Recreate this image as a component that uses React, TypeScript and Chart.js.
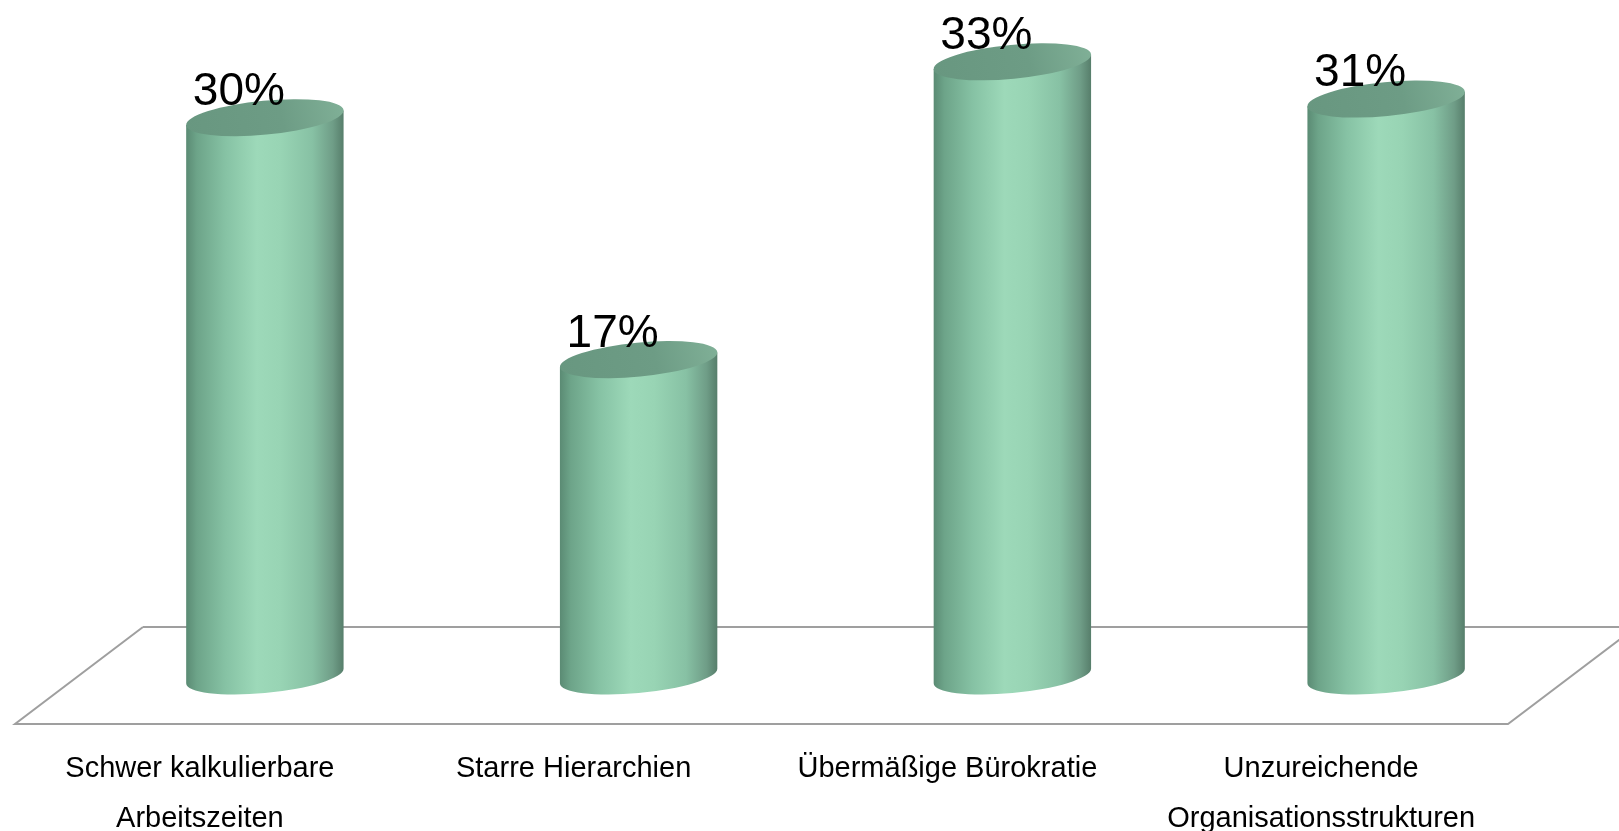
import React, { useEffect, useRef } from "react";
import { Chart, registerables } from "chart.js";

Chart.register(...registerables);

const categories: (string | string[])[] = [
  ["Schwer kalkulierbare", "Arbeitszeiten"],
  "Starre Hierarchien",
  "Übermäßige Bürokratie",
  ["Unzureichende", "Organisationsstrukturen"],
];
const values: number[] = [30, 17, 33, 31];
const valueLabels: string[] = ["30%", "17%", "33%", "31%"];

const FONT = '"Liberation Sans", Arial, sans-serif';

const cylinderPlugin = {
  id: "cylinders",
  beforeDatasetsDraw(chart: any) {
    const { ctx, chartArea } = chart;
    const fx0 = chartArea.left + 2;
    const fx1 = chartArea.right;
    const fy = chartArea.bottom;
    const DX = 128;
    const DY = -97;
    ctx.save();
    ctx.strokeStyle = "#9f9f9f";
    ctx.lineWidth = 2;
    ctx.beginPath();
    ctx.moveTo(fx0 + DX, fy + DY);
    ctx.lineTo(fx0, fy);
    ctx.lineTo(fx1, fy);
    ctx.lineTo(fx1 + DX, fy + DY);
    ctx.lineTo(fx0 + DX, fy + DY);
    ctx.stroke();
    ctx.restore();
  },
  afterDatasetsDraw(chart: any) {
    const { ctx } = chart;
    const meta = chart.getDatasetMeta(0);
    const dx = 65;
    const dy = -48;
    const theta = (-5.5 * Math.PI) / 180;
    meta.data.forEach((bar: any, i: number) => {
      const p = bar.getProps(["x", "y", "base", "width"], true);
      const cx = p.x + dx;
      const cyTop = p.y + dy;
      const cyBot = p.base + dy;
      const rx = p.width / 2;
      const ry = 17;
      const t0 = Math.atan2(-ry * Math.sin(theta), rx * Math.cos(theta));
      const pt = (cy: number, t: number) => ({
        x: cx + rx * Math.cos(t) * Math.cos(theta) - ry * Math.sin(t) * Math.sin(theta),
        y: cy + rx * Math.cos(t) * Math.sin(theta) + ry * Math.sin(t) * Math.cos(theta),
      });
      const tr = pt(cyTop, t0);
      const tl = pt(cyTop, t0 + Math.PI);
      const br = pt(cyBot, t0);

      ctx.save();
      const g = ctx.createLinearGradient(cx - rx, 0, cx + rx, 0);
      g.addColorStop(0, "#5a8a73");
      g.addColorStop(0.07, "#6da489");
      g.addColorStop(0.25, "#86c2a4");
      g.addColorStop(0.45, "#9dd9b9");
      g.addColorStop(0.6, "#98d4b4");
      g.addColorStop(0.8, "#87c1a4");
      g.addColorStop(0.93, "#6f9d87");
      g.addColorStop(1, "#567d6a");
      ctx.beginPath();
      ctx.moveTo(tr.x, tr.y);
      ctx.lineTo(br.x, br.y);
      ctx.ellipse(cx, cyBot, rx, ry, theta, t0, t0 + Math.PI, false);
      ctx.lineTo(tl.x, tl.y);
      ctx.closePath();
      ctx.fillStyle = g;
      ctx.fill();

      const gt = ctx.createLinearGradient(cx - rx, cyTop + ry, cx + rx, cyTop - ry);
      gt.addColorStop(0, "#689780");
      gt.addColorStop(0.6, "#6d9c85");
      gt.addColorStop(1, "#80b097");
      ctx.beginPath();
      ctx.ellipse(cx, cyTop, rx, ry, theta, 0, Math.PI * 2);
      ctx.fillStyle = gt;
      ctx.fill();

      ctx.fillStyle = "#000";
      ctx.font = `46px ${FONT}`;
      ctx.textAlign = "center";
      ctx.textBaseline = "alphabetic";
      ctx.fillText(valueLabels[i], cx - 26, cyTop - 13);
      ctx.restore();
    });
  },
};

export default function App() {
  const ref = useRef<HTMLCanvasElement>(null);
  useEffect(() => {
    if (!ref.current) return;
    const chart = new Chart(ref.current, {
      type: "bar",
      data: {
        labels: categories,
        datasets: [
          {
            data: values,
            backgroundColor: "rgba(0,0,0,0)",
            borderWidth: 0,
            categoryPercentage: 1,
            barPercentage: 0.423,
          },
        ],
      },
      options: {
        animation: false,
        responsive: true,
        maintainAspectRatio: false,
        layout: { padding: { left: 13, right: 111, top: 54, bottom: 0 } },
        plugins: {
          legend: { display: false },
          tooltip: { enabled: false },
        },
        scales: {
          x: {
            grid: { display: false },
            border: { display: false },
            afterFit: (scale: any) => {
              scale.height = 107;
            },
            ticks: {
              color: "#000",
              font: { family: FONT, size: 29, lineHeight: "50px" },
              padding: 12,
              autoSkip: false,
              maxRotation: 0,
              minRotation: 0,
            },
          },
          y: { display: false, min: 0, max: 36 },
        },
      },
      plugins: [cylinderPlugin],
    } as any);
    return () => chart.destroy();
  }, []);
  return (
    <div style={{ position: "fixed", left: 0, top: 0, width: 1619, height: 831, background: "#fff" }}>
      <canvas ref={ref} />
    </div>
  );
}
